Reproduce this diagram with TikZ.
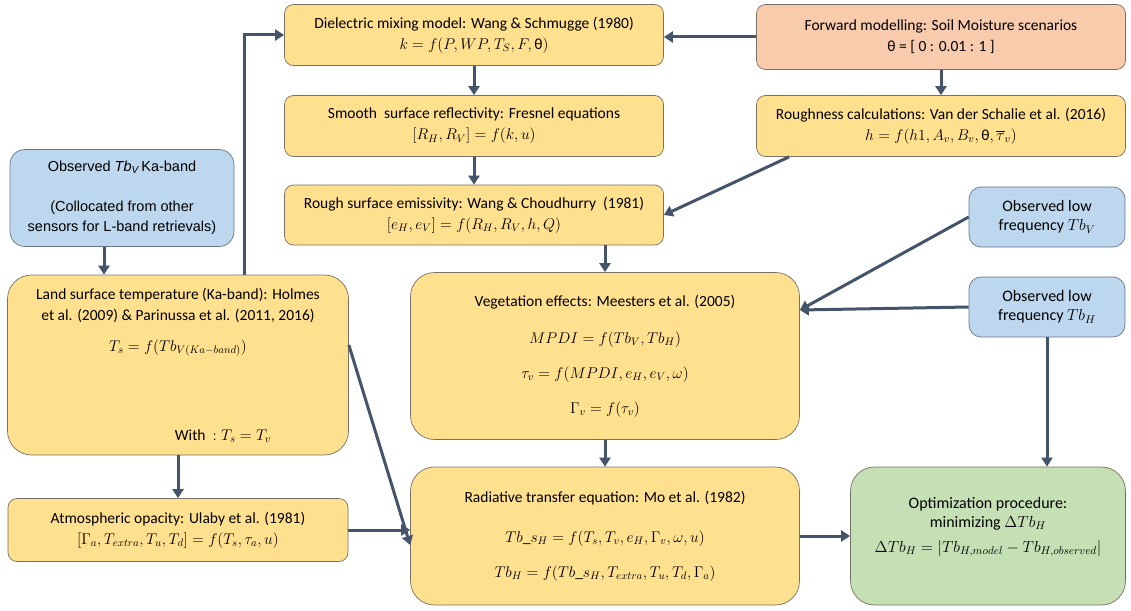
\RequirePackage{fix-cm}
\documentclass[tikz,border=0pt]{standalone}
\usepackage{amsmath}
\usepackage{fontspec}
\setmainfont{Carlito}
\newfontfamily\arialfont{Liberation Sans}
\usepackage{xcolor}
\usepackage{tikz}
\usetikzlibrary{positioning,arrows.meta,calc}
\definecolor{modelfill}{RGB}{255,224,143}
\definecolor{obsfill}{RGB}{189,215,238}
\definecolor{scenfill}{RGB}{248,203,173}
\definecolor{optfill}{RGB}{197,224,180}
\definecolor{boxedge}{RGB}{120,112,96}
\definecolor{flowcol}{RGB}{68,84,106}
\newcommand{\fml}[1]{{\fontsize{15.5}{19}\selectfont$#1$}}

\begin{document}
\begin{tikzpicture}[x=1pt,y=-1pt,
    model/.style={draw=boxedge,line width=0.7pt,fill=modelfill,rounded corners=9pt,align=center,
      font=\fontsize{15.5}{21}\selectfont,inner sep=2pt},
    bigmodel/.style={model,rounded corners=24pt},
    obs/.style={model,fill=obsfill,draw=flowcol!80,font=\fontsize{16}{19}\selectfont},
    flow/.style={draw=flowcol,line width=3pt,-{Triangle[width=11pt,length=9pt]}}
  ]
    \useasboundingbox (0,0) rectangle (1131,610);

    % top column
    \node[model,minimum width=379pt,minimum height=61pt] (diel) at (474,35)
      {Dielectric mixing model: Wang \& Schmugge (1980)\\ \fml{k = f(P,WP,T_S,F,\text{θ})}};
    \node[model,fill=scenfill,minimum width=369pt,minimum height=65pt] (fwd) at (941,37)
      {Forward modelling: Soil Moisture scenarios\\ θ = [ 0 : 0.01 : 1 ]};
    \node[model,minimum width=379pt,minimum height=61pt] (smooth) at (474,126)
      {Smooth\ \ surface reflectivity: Fresnel equations\\ \fml{[R_H,R_V] = f(k,u)}};
    \node[model,minimum width=369pt,minimum height=61pt] (rough) at (941,126)
      {Roughness calculations: Van der Schalie et al. (2016)\\ \fml{h = f(h1,A_v,B_v,\text{θ},\overline{\tau}_v)}};
    \node[model,minimum width=379pt,minimum height=60pt] (emis) at (474,215)
      {Rough surface emissivity: Wang \& Choudhurry\ \ (1981)\\ \fml{[e_H,e_V] = f(R_H,R_V,h,Q)}};

    % left column
    \node[obs,rounded corners=15pt,minimum width=224pt,minimum height=97pt,
      font=\arialfont\fontsize{14.5}{20}\selectfont] (obska) at (122,198)
      {Observed {\itshape Tb}\textsubscript{\itshape V}\,Ka-band\\[20pt] (Collocated from other\\ sensors for L-band retrievals)};
    \node[bigmodel,minimum width=341pt,minimum height=180pt] (lst) at (178,365)
      {Land surface temperature (Ka-band): Holmes\\ et al. (2009) \& Parinussa et al. (2011, 2016)\\[10pt]
       \fml{T_s = f(Tb_{V(Ka-band)})}\\[68pt] \hspace*{90pt}With\ \ \fml{:T_s = T_v}};
    \node[model,minimum width=340pt,minimum height=63pt] (atm) at (178,530)
      {Atmospheric opacity: Ulaby et al. (1981)\\ \fml{[\Gamma_a,T_{extra},T_u,T_d] = f(T_s,\tau_a,u)}};

    % middle column
    \node[bigmodel,minimum width=389pt,minimum height=167pt] (veg) at (605,356)
      {Vegetation effects: Meesters et al. (2005)\\[16pt] \fml{MPDI = f(Tb_V,Tb_H)}\\[14pt]
       \fml{\tau_v = f(MPDI,e_H,e_V,\omega)}\\[14pt] \fml{\Gamma_v = f(\tau_v)}};
    \node[bigmodel,minimum width=389pt,minimum height=138pt] (rad) at (605,536)
      {Radiative transfer equation: Mo et al. (1982)\\[19pt] \fml{Tb\text{\_}s_H = f(T_s,T_v,e_H,\Gamma_v,\omega,u)}\\[14pt]
       \fml{Tb_H = f(Tb\text{\_}s_H,T_{extra},T_u,T_d,\Gamma_a)}};

    % right column
    \node[obs,rounded corners=12pt,minimum width=156pt,minimum height=60pt] (obsv) at (1047,217)
      {Observed low\\ frequency $Tb_V$};
    \node[obs,rounded corners=12pt,minimum width=156pt,minimum height=60pt] (obsh) at (1047,307)
      {Observed low\\ frequency $Tb_H$};
    \node[bigmodel,fill=optfill,minimum width=275pt,minimum height=138pt,
      font=\fontsize{16}{19}\selectfont] (opt) at (988,536)
      {Optimization procedure:\\ minimizing $\Delta Tb_H$\\[6pt]
       $\Delta Tb_H = \left|Tb_{H,model} - Tb_{H,observed}\right|$\\[4pt]\mbox{}};

    \coordinate (vegin) at ([yshift=46pt]veg.east);

    % connectors
    \draw[flow] ([xshift=66pt]lst.north) |- (diel.west);
    \draw[flow] (fwd.west) -- (fwd.west -| diel.east);
    \draw[flow] (fwd) -- (rough);
    \draw[flow] (diel) -- (smooth);
    \draw[flow] (smooth) -- (emis);
    \draw[flow] ([xshift=33pt]rough.south west) -- (emis.east);
    \draw[flow] (veg.north |- emis.south) -- (veg.north);
    \draw[flow] ([xshift=-18pt]obska.south) -- ([xshift=-18pt]obska.south |- lst.north);
    \draw[flow] (lst) -- (atm);
    \draw[flow] ([yshift=20pt]lst.east) -- ([yshift=-9pt]rad.west);
    \draw[flow] (atm.east) -- (atm.east -| rad.west);
    \draw[flow] (veg) -- (rad);
    \draw[flow] (obsv.west) -- (vegin);
    \draw[flow] (obsh.west) -- (vegin);
    \draw[flow] (obsh.south) -- (obsh.south |- opt.north);
    \draw[flow] (rad.east) -- (opt.west);
  \end{tikzpicture}
\end{document}
